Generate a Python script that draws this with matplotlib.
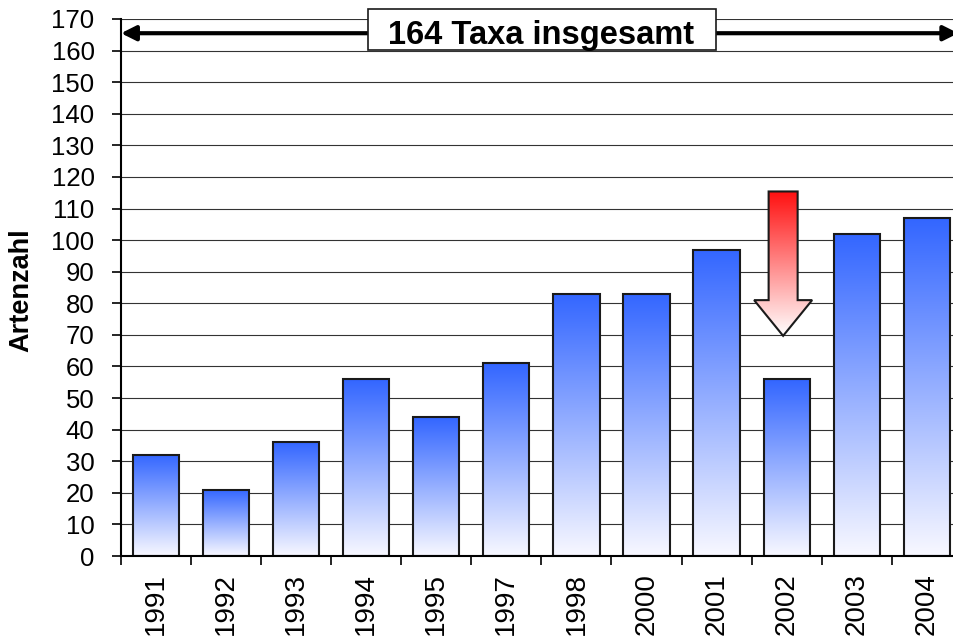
import matplotlib
matplotlib.use('Agg')
import matplotlib.pyplot as plt
from matplotlib.colors import LinearSegmentedColormap
from matplotlib.patches import Polygon, Rectangle
import numpy as np

plt.rcParams['font.family'] = ['Liberation Sans', 'DejaVu Sans']

# Artenzahl je Untersuchungsjahr
years = ['1991', '1992', '1993', '1994', '1995', '1997', '1998',
         '2000', '2001', '2002', '2003', '2004']
artenzahl = [32, 21, 36, 56, 44, 61, 83, 83, 97, 56, 102, 107]
total_label = '164 Taxa insgesamt'
total_level = 165.5

blue_cmap = LinearSegmentedColormap.from_list('bl', ['#f8f8ff', '#3366ff'])
red_cmap = LinearSegmentedColormap.from_list('rd', ['#ffffff', '#ff1010'])
grad = np.linspace(0, 1, 256).reshape(-1, 1)

fig = plt.figure(figsize=(9.54, 6.44), dpi=100)
ax = fig.add_axes([121/954, 88/644, 840.8/954, 537/644])

ax.set_xlim(-0.5, len(years) - 0.5)
ax.set_ylim(0, 170)

# grid
ax.set_yticks(np.arange(0, 171, 10))
ax.yaxis.grid(True, color='#333333', lw=0.8, zorder=0)
ax.set_axisbelow(True)

width = 0.66
for i, v in enumerate(artenzahl):
  x0 = i - width / 2
  im = ax.imshow(grad, cmap=blue_cmap, origin='lower', aspect='auto',
                 extent=[x0, x0 + width, 0, v], zorder=2)
  ax.add_patch(Rectangle((x0, 0), width, v, fill=False,
                         edgecolor='#1a1a1a', lw=1.5, zorder=3))

ax.set_xlim(-0.5, len(years) - 0.5)
ax.set_ylim(0, 170)

# red arrow over 2002
ax_c = 8.95
top, base, tip = 115.4, 81.0, 69.7
sw, hw = 0.207, 0.414
arrow_pts = [(ax_c - sw, top), (ax_c + sw, top), (ax_c + sw, base),
             (ax_c + hw, base), (ax_c, tip), (ax_c - hw, base),
             (ax_c - sw, base)]
arrow = Polygon(arrow_pts, closed=True, fill=False, edgecolor='#1a1a1a',
                lw=1.5, zorder=5)
ax.add_patch(arrow)
im = ax.imshow(grad, cmap=red_cmap, origin='lower', aspect='auto',
               extent=[ax_c - hw, ax_c + hw, tip, top], zorder=4)
im.set_clip_path(arrow)
ax.set_xlim(-0.5, len(years) - 0.5)
ax.set_ylim(0, 170)

# double headed arrow with label
ax.annotate('', xy=(-0.5, total_level), xytext=(11.45, total_level),
            arrowprops=dict(arrowstyle='<|-|>', lw=3, color='black',
                            mutation_scale=22, shrinkA=0, shrinkB=0),
            annotation_clip=False, zorder=6)
ax.add_patch(Rectangle((3.025, 160.2), 4.965, 13.0, facecolor='white',
                       edgecolor='#1a1a1a', lw=1.2, zorder=7, clip_on=False))
ax.text(5.5, 162.0, total_label, ha='center', va='baseline', fontsize=23.5,
        fontweight='bold', zorder=8)

# axes
for s in ['top', 'right']:
  ax.spines[s].set_visible(False)
for s in ['left', 'bottom']:
  ax.spines[s].set_linewidth(1.5)
  ax.spines[s].set_color('black')
  ax.spines[s].set_zorder(9)

ax.tick_params(axis='y', labelsize=18.5, length=6.5, width=1.2, pad=12.5)
ax.set_xticks(range(len(years)))
ax.set_xticklabels(years, rotation=90, fontsize=20)
ax.tick_params(axis='x', which='major', length=0, pad=12.5)
ax.set_xticks(np.arange(-0.5, len(years), 1), minor=True)
ax.tick_params(axis='x', which='minor', length=6.5, width=1.2)

fig.text(21/954, (644 - 290)/644, 'Artenzahl', rotation=90, ha='center',
         va='center', fontsize=19.5, fontweight='bold')

fig.savefig('out.png', dpi=100)
